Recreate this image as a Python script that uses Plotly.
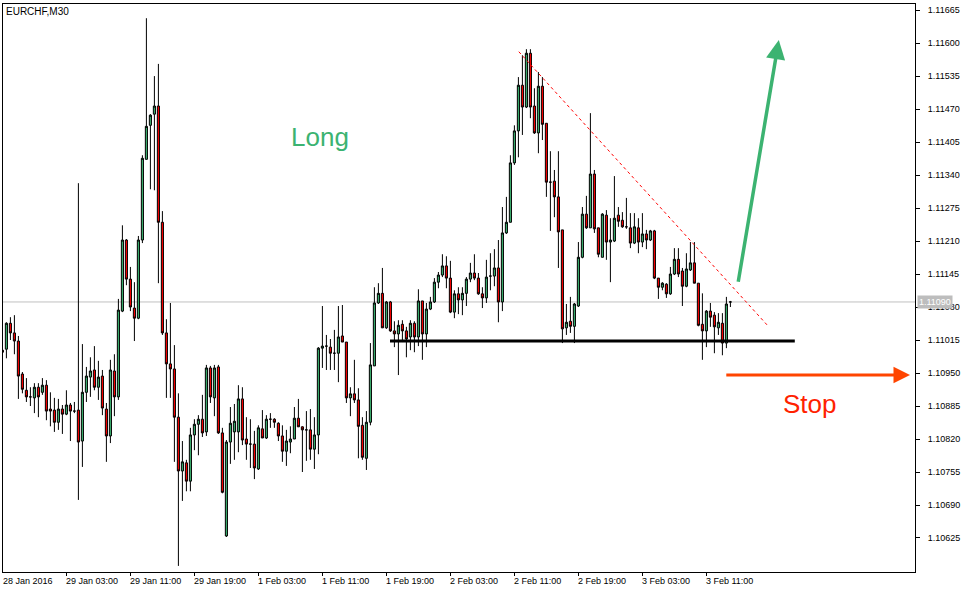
import plotly.graph_objects as go

# ---- data (EURCHF M30 candles) ----
opens = [1.10995,1.10997,1.11048,1.11029,1.11013,1.10948,1.10916,1.10903,1.10901,1.10922,
1.10912,1.10926,1.10879,1.10877,1.10853,1.10879,1.10869,1.10887,1.10875,1.10877,
1.10816,1.10912,1.10942,1.10956,1.10922,1.10944,1.10879,1.10826,1.10954,1.10903,
1.11072,1.11212,1.11135,1.11078,1.11058,1.11212,1.11371,1.11438,1.11460,1.11476,
1.11247,1.11029,1.10968,1.10958,1.10863,1.10757,1.10773,1.10737,1.10828,1.10849,
1.10859,1.10834,1.10960,1.10901,1.10962,1.10832,1.10629,1.10814,1.10834,1.10834,
1.10899,1.10820,1.10810,1.10810,1.10761,1.10840,1.10822,1.10859,1.10859,1.10851,
1.10826,1.10796,1.10814,1.10820,1.10861,1.10844,1.10838,1.10838,1.10800,1.10828,
1.10999,1.11003,1.11001,1.10989,1.10989,1.11023,1.11011,1.10901,1.10909,1.10897,
1.10847,1.10782,1.10853,1.10964,1.11088,1.11107,1.11039,1.11090,1.11033,1.11027,
1.11046,1.11033,1.11021,1.11048,1.11021,1.11092,1.11027,1.11076,1.11090,1.11129,
1.11143,1.11161,1.11137,1.11070,1.11106,1.11094,1.11107,1.11135,1.11147,1.11137,
1.11106,1.11098,1.11141,1.11141,1.11157,1.11090,1.11226,1.11247,1.11364,1.11427,
1.11517,1.11474,1.11580,1.11476,1.11423,1.11515,1.11442,1.11326,1.11328,1.11297,
1.11232,1.11039,1.11052,1.11042,1.11082,1.11178,1.11263,1.11236,1.11342,1.11236,
1.11178,1.11261,1.11208,1.11210,1.11261,1.11251,1.11238,1.11236,1.11206,1.11236,
1.11208,1.11224,1.11212,1.11230,1.11137,1.11119,1.11125,1.11106,1.11145,1.11174,
1.11151,1.11121,1.11153,1.11167,1.11127,1.11046,1.11033,1.11072,1.11064,1.11039,
1.11048,1.11009,1.11090]
highs = [1.11001,1.11050,1.11060,1.11064,1.11023,1.10952,1.10940,1.10922,1.10930,1.10930,
1.10940,1.10936,1.10912,1.10901,1.10899,1.10887,1.10916,1.10891,1.10893,1.11324,
1.11007,1.10962,1.10981,1.11003,1.10974,1.10956,1.10891,1.10976,1.10987,1.11096,
1.11241,1.11214,1.11159,1.11129,1.11220,1.11379,1.11649,1.11460,1.11535,1.11559,
1.11269,1.11056,1.11088,1.11005,1.10910,1.10816,1.10779,1.10842,1.10859,1.10867,
1.10907,1.10966,1.10964,1.10966,1.10966,1.10842,1.10818,1.10883,1.10889,1.10926,
1.10922,1.10863,1.10859,1.10836,1.10847,1.10877,1.10867,1.10871,1.10861,1.10853,
1.10847,1.10838,1.10845,1.10883,1.10899,1.10845,1.10875,1.10879,1.10863,1.11001,
1.11082,1.11025,1.11017,1.11035,1.11082,1.11084,1.11011,1.10922,1.10976,1.10920,
1.10863,1.10875,1.11009,1.11119,1.11127,1.11157,1.11092,1.11092,1.11052,1.11054,
1.11054,1.11041,1.11054,1.11052,1.11115,1.11092,1.11088,1.11100,1.11137,1.11149,
1.11184,1.11180,1.11171,1.11113,1.11119,1.11119,1.11139,1.11167,1.11184,1.11147,
1.11119,1.11173,1.11186,1.11194,1.11212,1.11277,1.11297,1.11379,1.11438,1.11533,
1.11576,1.11588,1.11588,1.11511,1.11543,1.11533,1.11442,1.11387,1.11350,1.11387,
1.11232,1.11086,1.11100,1.11088,1.11208,1.11277,1.11299,1.11462,1.11350,1.11236,
1.11265,1.11271,1.11255,1.11338,1.11277,1.11267,1.11295,1.11265,1.11265,1.11255,
1.11265,1.11232,1.11232,1.11232,1.11137,1.11129,1.11127,1.11159,1.11196,1.11196,
1.11157,1.11186,1.11208,1.11208,1.11127,1.11107,1.11074,1.11088,1.11070,1.11068,
1.11068,1.11100,1.11092]
lows = [1.10983,1.10979,1.11015,1.10987,1.10899,1.10910,1.10893,1.10885,1.10871,1.10863,
1.10907,1.10857,1.10845,1.10834,1.10838,1.10830,1.10867,1.10816,1.10871,1.10700,
1.10765,1.10893,1.10903,1.10916,1.10897,1.10867,1.10775,1.10812,1.10865,1.10897,
1.11070,1.11123,1.11072,1.11013,1.11056,1.11206,1.11371,1.11312,1.11310,1.11127,
1.11025,1.10901,1.10901,1.10775,1.10570,1.10698,1.10717,1.10717,1.10798,1.10788,
1.10824,1.10826,1.10891,1.10865,1.10830,1.10713,1.10627,1.10771,1.10779,1.10794,
1.10808,1.10779,1.10763,1.10741,1.10759,1.10822,1.10820,1.10842,1.10842,1.10816,
1.10775,1.10767,1.10792,1.10820,1.10844,1.10755,1.10777,1.10779,1.10761,1.10790,
1.10960,1.10956,1.10956,1.10956,1.10932,1.11011,1.10891,1.10865,1.10891,1.10782,
1.10779,1.10759,1.10847,1.10964,1.11086,1.11039,1.11037,1.11031,1.11001,1.10946,
1.11011,1.10981,1.10995,1.10991,1.11003,1.10976,1.11001,1.11074,1.11088,1.11117,
1.11139,1.11117,1.11068,1.11058,1.11066,1.11064,1.11082,1.11129,1.11133,1.11104,
1.11078,1.11088,1.11113,1.11121,1.11050,1.11072,1.11224,1.11247,1.11360,1.11375,
1.11419,1.11472,1.11452,1.11421,1.11383,1.11409,1.11297,1.11230,1.11257,1.11157,
1.11009,1.11025,1.11029,1.11009,1.11080,1.11176,1.11234,1.11236,1.11226,1.11178,
1.11178,1.11173,1.11129,1.11208,1.11238,1.11236,1.11234,1.11196,1.11204,1.11186,
1.11198,1.11194,1.11210,1.11135,1.11096,1.11113,1.11098,1.11104,1.11143,1.11139,
1.11082,1.11119,1.11151,1.11127,1.11042,1.10976,1.11001,1.11041,1.10989,1.11025,
1.10985,1.10999,1.11080]
closes = [1.10991,1.11048,1.11029,1.11013,1.10944,1.10918,1.10903,1.10903,1.10922,1.10903,
1.10926,1.10875,1.10875,1.10853,1.10879,1.10869,1.10887,1.10875,1.10875,1.10814,
1.10912,1.10944,1.10954,1.10922,1.10942,1.10881,1.10826,1.10956,1.10903,1.11074,
1.11212,1.11135,1.11080,1.11058,1.11212,1.11373,1.11436,1.11458,1.11476,1.11247,
1.11029,1.10968,1.10958,1.10863,1.10757,1.10775,1.10737,1.10828,1.10849,1.10859,
1.10832,1.10960,1.10903,1.10960,1.10832,1.10715,1.10814,1.10851,1.10855,1.10899,
1.10818,1.10810,1.10810,1.10763,1.10842,1.10822,1.10859,1.10859,1.10853,1.10826,
1.10796,1.10816,1.10820,1.10861,1.10844,1.10838,1.10838,1.10800,1.10828,1.10999,
1.11003,1.11003,1.10989,1.10989,1.11021,1.11011,1.10901,1.10909,1.10897,1.10845,
1.10784,1.10853,1.10966,1.11088,1.11107,1.11039,1.11090,1.11033,1.11027,1.11044,
1.11033,1.11017,1.11048,1.11021,1.11092,1.11027,1.11076,1.11090,1.11129,1.11143,
1.11161,1.11137,1.11070,1.11106,1.11094,1.11107,1.11135,1.11147,1.11137,1.11106,
1.11098,1.11139,1.11141,1.11157,1.11090,1.11226,1.11247,1.11364,1.11427,1.11517,
1.11474,1.11580,1.11474,1.11423,1.11515,1.11440,1.11326,1.11326,1.11297,1.11228,
1.11037,1.11050,1.11042,1.11086,1.11178,1.11263,1.11236,1.11342,1.11234,1.11184,
1.11263,1.11208,1.11212,1.11255,1.11249,1.11238,1.11238,1.11206,1.11238,1.11208,
1.11224,1.11212,1.11230,1.11137,1.11119,1.11127,1.11106,1.11145,1.11174,1.11145,
1.11121,1.11155,1.11167,1.11127,1.11044,1.11033,1.11072,1.11060,1.11041,1.11050,
1.11009,1.11086,1.11090]

tick_bars = [0, 16, 32, 48, 64, 80, 96, 112, 128, 144, 160, 176]
tick_labels = ["28 Jan 2016", "29 Jan 03:00", "29 Jan 11:00", "29 Jan 19:00",
               "1 Feb 03:00", "1 Feb 11:00", "1 Feb 19:00", "2 Feb 03:00",
               "2 Feb 11:00", "2 Feb 19:00", "3 Feb 03:00", "3 Feb 11:00"]
price_ticks = [1.10625, 1.10690, 1.10755, 1.10820, 1.10885, 1.10950, 1.11015, 1.11080,
               1.11145, 1.11210, 1.11275, 1.11340, 1.11405, 1.11470, 1.11535, 1.11600, 1.11665]

# drawn objects (bar index, price)
trend_x = [129.1, 191.6]
trend_y = [1.11583, 1.11041]
support_x = [96.9, 198.1]
support_level = 1.11013
long_arrow_x = [183.9, 194.1]      # tail, head
long_arrow_y = [1.11127, 1.11606]
stop_arrow_x = [180.6, 226.9]
stop_arrow_y = [1.10946, 1.10946]
long_label = (79.4, 1.11415)
stop_label = (201.9, 1.10889)

x_range = [0.15, 228.15]
y_range = [1.10558, 1.11677]

GREEN = "#3CB371"
ORANGE = "#FF4500"
FONT = "Liberation Sans, Arial, sans-serif"

bars = list(range(len(closes)))

fig = go.Figure()
fig.add_trace(go.Candlestick(
    x=bars, open=opens, high=highs, low=lows, close=closes,
    increasing=dict(fillcolor=GREEN, line=dict(color="black", width=1)),
    decreasing=dict(fillcolor="#FF0000", line=dict(color="black", width=1)),
    whiskerwidth=0, showlegend=False, hoverinfo="skip"))

shapes = [
    dict(type="line", xref="paper", x0=0, x1=1, yref="y", y0=closes[-1], y1=closes[-1],
         line=dict(color="#C0C0C0", width=1), layer="below"),
    dict(type="line", xref="x", x0=trend_x[0], x1=trend_x[1], yref="y",
         y0=trend_y[0], y1=trend_y[1], line=dict(color="#FF0000", width=1, dash="dot")),
    dict(type="line", xref="x", x0=support_x[0], x1=support_x[1], yref="y",
         y0=support_level, y1=support_level, line=dict(color="black", width=3)),
]

annotations = []
for b, lab in zip(tick_bars, tick_labels):
    annotations.append(dict(x=max(b, x_range[0]), xref="x", y=0, yref="paper",
                            text=lab, showarrow=False, xanchor="left", yanchor="top",
                            yshift=-2, xshift=-2, font=dict(size=9, color="black", family=FONT)))
annotations += [
    dict(x=0, xref="paper", y=1, yref="paper", text="EURCHF,M30", showarrow=False,
         xanchor="left", yanchor="top", xshift=1, yshift=0,
         font=dict(size=10, color="black", family=FONT)),
    dict(x=1, xref="paper", y=closes[-1], yref="y", text=f"{closes[-1]:.5f}",
         showarrow=False, xanchor="left", yanchor="middle", xshift=2,
         bgcolor="#BDBDBD", borderpad=1,
         font=dict(size=9, color="white", family=FONT)),
    dict(x=long_arrow_x[1], y=long_arrow_y[1], xref="x", yref="y",
         ax=long_arrow_x[0], ay=long_arrow_y[0], axref="x", ayref="y",
         showarrow=True, arrowhead=2, arrowsize=1.1, arrowwidth=3.5,
         arrowcolor=GREEN, text=""),
    dict(x=stop_arrow_x[1], y=stop_arrow_y[1], xref="x", yref="y",
         ax=stop_arrow_x[0], ay=stop_arrow_y[0], axref="x", ayref="y",
         showarrow=True, arrowhead=2, arrowsize=1.1, arrowwidth=3,
         arrowcolor=ORANGE, text=""),
    dict(x=long_label[0], y=long_label[1], xref="x", yref="y", text="Long",
         showarrow=False, font=dict(size=26, color=GREEN, family=FONT)),
    dict(x=stop_label[0], y=stop_label[1], xref="x", yref="y", text="Stop",
         showarrow=False, font=dict(size=26, color="#FF2200", family=FONT)),
]

fig.update_layout(
    width=970, height=592,
    margin=dict(l=3, r=55, t=4, b=20),
    paper_bgcolor="white", plot_bgcolor="white",
    font=dict(family=FONT, size=9, color="black"),
    boxgap=0.25,
    shapes=shapes, annotations=annotations,
    xaxis=dict(range=x_range, rangeslider=dict(visible=False), showgrid=False,
               zeroline=False, showline=True, linecolor="black", linewidth=1, mirror=True,
               tickvals=tick_bars, showticklabels=False, ticks="outside", ticklen=3,
               tickcolor="black"),
    yaxis=dict(range=y_range, side="right", showgrid=False, zeroline=False,
               showline=True, linecolor="black", linewidth=1, mirror=True,
               tickvals=price_ticks, ticktext=[f"{v:.5f}" for v in price_ticks],
               ticks="outside", ticklen=4, tickcolor="black", ticklabelstandoff=6,
               tickfont=dict(size=9, color="black", family=FONT)),
)

fig.write_html("out.html", config={"displayModeBar": False},
               post_script="document.body.style.margin='0px';document.body.style.overflow='hidden';")
